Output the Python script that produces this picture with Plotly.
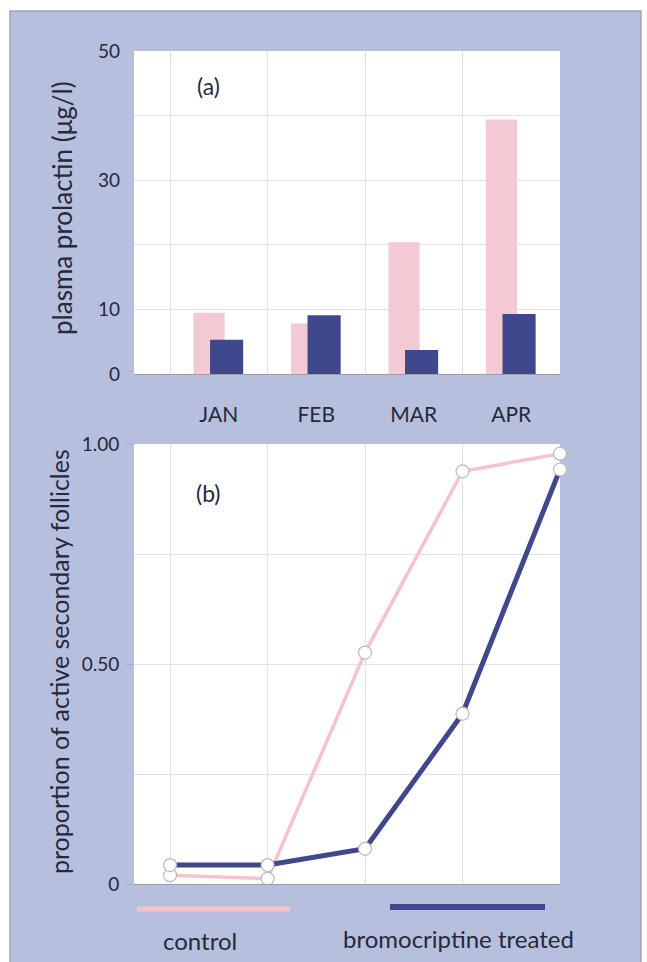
import plotly.graph_objects as go

# ---------------- data ----------------
months = ["JAN", "FEB", "MAR", "APR"]
prolactin_control = [9.5, 7.8, 20.4, 39.4]
prolactin_bromo = [5.3, 9.1, 3.7, 9.3]

sample_points = [0, 1, 2, 3, 4]
follicles_control = [0.020, 0.012, 0.526, 0.938, 0.978]
follicles_bromo = [0.043, 0.043, 0.080, 0.387, 0.942]

prolactin_ticks = [0, 10, 30, 50]
prolactin_minor = [20, 40]
follicle_ticks = [0, 0.5, 1.0]
follicle_ticklabels = ["0", "0.50", "1.00"]
follicle_minor = [0.25, 0.75]

# ---------------- style ----------------
W, H = 647, 962
PANEL = "#b6c0de"
PINK = "#f3c9d3"
PINK_LINE = "#f6c3cd"
BLUE = "#3f488d"
GRID = "#e2e2e6"
TXT = "#27283a"
FONT = "Lato"


def px(x):
    return x / W


def py(y):
    return 1 - y / H


fig = go.Figure()

# (a) bars
fig.add_trace(go.Bar(x=months, y=prolactin_control, marker_color=PINK,
                     marker_line_width=0, offset=-0.26, width=0.32,
                     xaxis="x", yaxis="y", name="control", showlegend=False))
fig.add_trace(go.Bar(x=months, y=prolactin_bromo, marker_color=BLUE,
                     marker_line_width=0, offset=-0.09, width=0.34,
                     xaxis="x", yaxis="y", name="bromocriptine treated",
                     showlegend=False))

# (b) lines
marker = dict(size=13, color="white", line=dict(color="#b9b9c0", width=1.2))
fig.add_trace(go.Scatter(x=sample_points, y=follicles_control, mode="lines+markers",
                         line=dict(color=PINK_LINE, width=3.5), marker=marker,
                         xaxis="x2", yaxis="y2", cliponaxis=False, showlegend=False))
fig.add_trace(go.Scatter(x=sample_points, y=follicles_bromo, mode="lines+markers",
                         line=dict(color=BLUE, width=5), marker=marker,
                         xaxis="x2", yaxis="y2", cliponaxis=False, showlegend=False))

xdom = [px(134), px(560)]

fig.update_layout(
    width=W, height=H,
    margin=dict(l=0, r=0, t=0, b=0, autoexpand=False),
    paper_bgcolor=PANEL, plot_bgcolor="white",
    barmode="overlay",
    font=dict(family=FONT, color=TXT, size=19),
    xaxis=dict(domain=xdom, anchor="y", type="category", tickson="boundaries",
               range=[-0.87, 3.5], showgrid=True, gridcolor=GRID, gridwidth=1,
               ticks="", ticklabelstandoff=22, tickfont=dict(size=21), automargin=False,
               showline=True, linecolor="#9a9db0", linewidth=1, zeroline=False),
    yaxis=dict(domain=[py(374), py(51)], anchor="x", range=[0, 50], automargin=False,
               tickmode="array", tickvals=prolactin_ticks, showgrid=True,
               gridcolor=GRID, zeroline=False, ticks="", ticklabelstandoff=13,
               tickfont=dict(size=19),
               minor=dict(tickmode="array", tickvals=prolactin_minor,
                          showgrid=True, gridcolor=GRID, ticks="")),
    xaxis2=dict(domain=xdom, anchor="y2", range=[-0.37, 4], tickmode="array",
                tickvals=sample_points, showticklabels=False, showgrid=True,
                gridcolor=GRID, zeroline=False, ticks="", automargin=False,
                showline=True, linecolor="#9a9db0", linewidth=1),
    yaxis2=dict(domain=[py(884), py(444)], anchor="x2", range=[0, 1.0],
                tickmode="array", tickvals=follicle_ticks, automargin=False,
                ticktext=follicle_ticklabels, showgrid=True, gridcolor=GRID,
                zeroline=False, ticks="outside", ticklen=8, tickcolor="#a8adc4",
                tickwidth=1, tickfont=dict(size=19), ticklabelstandoff=2,
                minor=dict(tickmode="array", tickvals=follicle_minor,
                           showgrid=True, gridcolor=GRID, ticks="")),
)

# white surround and panel border
shapes = [
    dict(type="rect", xref="paper", yref="paper", x0=-0.01, x1=1.01, y0=py(11), y1=1.01,
         fillcolor="white", line_width=0, layer="below"),
    dict(type="rect", xref="paper", yref="paper", x0=-0.01, x1=px(10), y0=-0.01, y1=1.01,
         fillcolor="white", line_width=0, layer="below"),
    dict(type="rect", xref="paper", yref="paper", x0=px(641), x1=1.01, y0=-0.01, y1=1.01,
         fillcolor="white", line_width=0, layer="below"),
    dict(type="rect", xref="paper", yref="paper", x0=px(10), x1=px(641), y0=-0.01, y1=py(11),
         fillcolor="rgba(0,0,0,0)", line=dict(color="#a3a7b6", width=1.5), layer="above"),
    # legend keys
    dict(type="line", xref="paper", yref="paper", x0=px(137), x1=px(290), y0=py(909), y1=py(909),
         line=dict(color=PINK_LINE, width=5)),
    dict(type="line", xref="paper", yref="paper", x0=px(390), x1=px(545), y0=py(907), y1=py(907),
         line=dict(color=BLUE, width=6)),
]
fig.update_layout(shapes=shapes)

ann_common = dict(xref="paper", yref="paper", showarrow=False,
                  xanchor="center", yanchor="middle")
annotations = [
    dict(text="plasma prolactin (μg/l)", x=px(62), y=py(208), textangle=-90,
         font=dict(size=26), **ann_common),
    dict(text="proportion of active secondary follicles", x=px(59), y=py(662),
         textangle=-90, font=dict(size=25), **ann_common),
    dict(text="(a)", x=px(208), y=py(86), font=dict(size=23), **ann_common),
    dict(text="(b)", x=px(209), y=py(493), font=dict(size=23), **ann_common),
    dict(text="control", x=px(200), y=py(940), font=dict(size=24), **ann_common),
    dict(text="bromocriptine treated", x=px(458), y=py(938), font=dict(size=24),
         **ann_common),
]
fig.update_layout(annotations=annotations)

fig.write_html(
    "out.html",
    config={"displayModeBar": False},
    post_script="document.body.style.margin='0';document.body.style.overflow='hidden';",
)
